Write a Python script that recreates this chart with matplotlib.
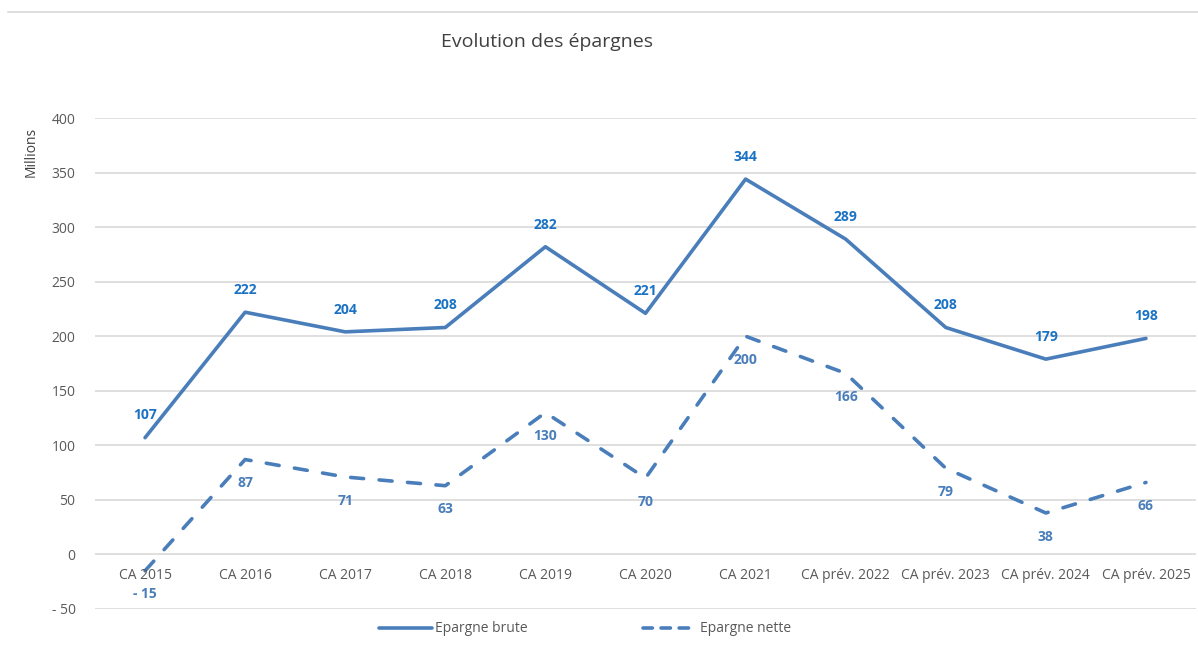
import matplotlib
matplotlib.use("Agg")
import matplotlib.pyplot as plt
from matplotlib.lines import Line2D

categories = ["CA 2015", "CA 2016", "CA 2017", "CA 2018", "CA 2019", "CA 2020",
              "CA 2021", "CA prév. 2022", "CA prév. 2023", "CA prév. 2024", "CA prév. 2025"]
epargne_brute = [107, 222, 204, 208, 282, 221, 344, 289, 208, 179, 198]
epargne_nette = [-15, 87, 71, 63, 130, 70, 200, 166, 79, 38, 66]
yticks = [-50, 0, 50, 100, 150, 200, 250, 300, 350, 400]
ytick_labels = ["- 50", "0", "50", "100", "150", "200", "250", "300", "350", "400"]

plt.rcParams['font.family'] = ['Open Sans', 'DejaVu Sans']

line_color = "#4A7EBB"
brute_label_color = "#1A72C4"
nette_label_color = "#4A7EBB"
grid_color = "#D9D9D9"
text_color = "#595959"
dash_pattern = (3.6, 4.3)

fig = plt.figure(figsize=(11.98, 6.46), dpi=100)
ax = fig.add_axes([95 / 1198, 1 - 609 / 646, (1196 - 95) / 1198, (609 - 118) / 646])

x = list(range(len(categories)))
ax.plot(x, epargne_brute, color=line_color, lw=2.6, solid_capstyle='round',
        solid_joinstyle='round', zorder=3)
ax.plot(x, epargne_nette, color=line_color, lw=2.6, dashes=dash_pattern,
        dash_capstyle='round', dash_joinstyle='round', zorder=3)

for xi, v in zip(x, epargne_brute):
    ax.annotate(str(v), (xi, v), xytext=(0, 16), textcoords='offset points',
                ha='center', va='center', color=brute_label_color, fontsize=10,
                fontweight='bold')
for xi, v in zip(x, epargne_nette):
    lab = f"- {abs(v)}" if v < 0 else str(v)
    ax.annotate(lab, (xi, v), xytext=(0, -17), textcoords='offset points',
                ha='center', va='center', color=nette_label_color, fontsize=10,
                fontweight='bold')

ax.set_xlim(-0.5, len(categories) - 0.5)
ax.set_ylim(-50, 400)
ax.set_yticks(yticks)
ax.set_yticklabels(ytick_labels)
ax.set_xticks(x)
ax.set_xticklabels([])
ax.grid(axis='y', color=grid_color, lw=1.2)
ax.set_axisbelow(True)
for s in ax.spines.values():
    s.set_visible(False)
ax.tick_params(axis='both', length=0, labelsize=10, labelcolor=text_color)
ax.tick_params(axis='y', pad=14)
ax.set_ylabel("Millions", fontsize=10, color="#404040")
ax.yaxis.set_label_coords(-0.051, 0.93)

# category labels sit just below the zero line in the reference
for xi, c in zip(x, categories):
    ax.annotate(c, (xi, 0), xytext=(0, -15.5), textcoords='offset points',
                ha='center', va='center', color=text_color, fontsize=10)

fig.text(547 / 1198, 1 - 42 / 646, "Evolution des épargnes", ha='center', va='center',
         fontsize=14, color="#404040")

# top separator line
fig.add_artist(Line2D([8 / 1198, 1.0], [1 - 12 / 646, 1 - 12 / 646],
                      transform=fig.transFigure, color=grid_color, lw=1.2))

# legend
h1 = Line2D([], [], color=line_color, lw=2.6, solid_capstyle='round')
h2 = Line2D([], [], color=line_color, lw=2.6, dashes=(2.6, 2.4), dash_capstyle='round')
fig.legend([h1, h2], ["Epargne brute", "Epargne nette"], loc='center',
           bbox_to_anchor=(585 / 1198, 1 - 629 / 646), ncol=2, frameon=False,
           fontsize=10, labelcolor=text_color, handlelength=3.8, handletextpad=0.25,
           columnspacing=8.3)

fig.savefig("out.png", dpi=100, facecolor='white')
